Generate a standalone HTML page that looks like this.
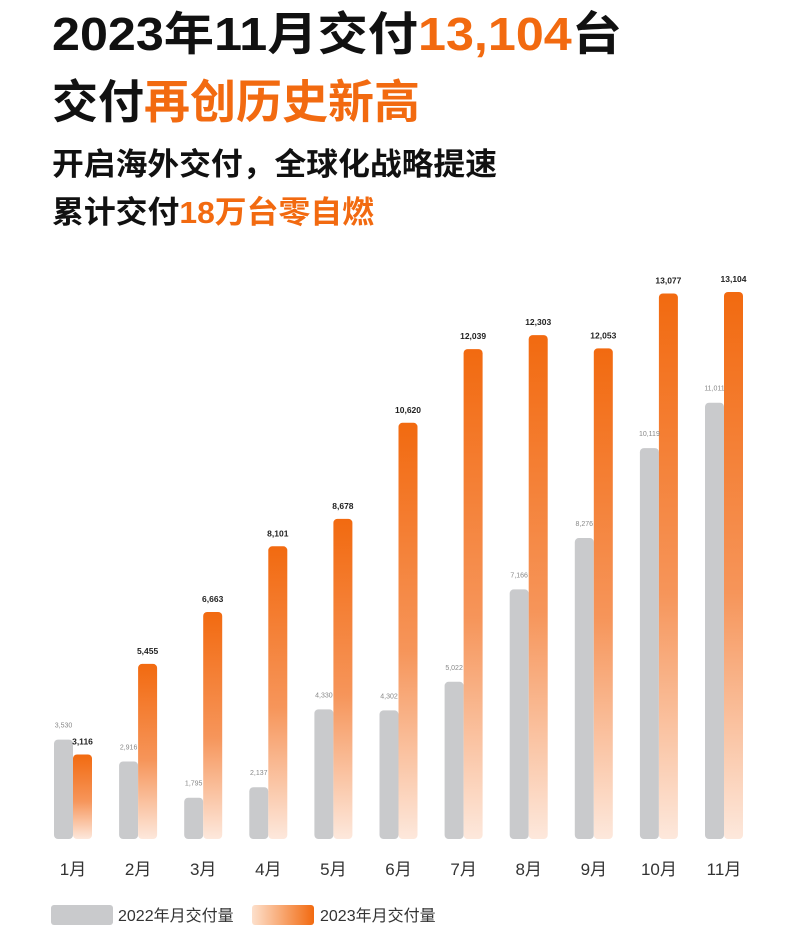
<!DOCTYPE html>
<html><head><meta charset="utf-8">
<style>
html,body{margin:0;padding:0;background:#fff;}
body{width:797px;height:936px;overflow:hidden;font-family:"Liberation Sans","Noto Sans CJK SC",sans-serif;}
.o{fill:#f26a10;}
</style></head>
<body>
<svg id="chart" width="797" height="936" viewBox="0 0 797 936" xmlns="http://www.w3.org/2000/svg">
<defs>
<linearGradient id="og" x1="0" y1="0" x2="0" y2="1">
<stop offset="0" stop-color="#f26a10"/><stop offset="0.55" stop-color="#f6955a"/><stop offset="1" stop-color="#fde8dc"/>
</linearGradient>
<linearGradient id="lg" x1="0" y1="0" x2="1" y2="0">
<stop offset="0" stop-color="#fde0cc"/><stop offset="1" stop-color="#f26a10"/>
</linearGradient>
</defs>
<g font-family="'Liberation Sans','Noto Sans CJK SC',sans-serif" font-weight="bold">
<text x="52" y="50" font-size="46" fill="#111" textLength="570" lengthAdjust="spacingAndGlyphs">2023年11月交付<tspan class="o">13,104</tspan>台</text>
<text x="52" y="118" font-size="46" fill="#111">交付<tspan class="o">再创历史新高</tspan></text>
<text x="52" y="175" font-size="31" fill="#111" textLength="445" lengthAdjust="spacingAndGlyphs">开启海外交付，全球化战略提速</text>
<text x="52" y="223" font-size="31" fill="#111" textLength="322" lengthAdjust="spacingAndGlyphs">累计交付<tspan class="o">18万台零自燃</tspan></text>
</g>
<g id="bars"></g>
<g>
<rect x="51" y="905" width="62" height="20" rx="3" fill="#c9cacc"/>
<text x="118" y="921" font-size="16" fill="#333">2022年月交付量</text>
<rect x="252" y="905" width="62" height="20" rx="3" fill="url(#lg)"/>
<text x="320" y="921" font-size="16" fill="#333">2023年月交付量</text>
</g>
</svg>
<script>
const months = ["1月","2月","3月","4月","5月","6月","7月","8月","9月","10月","11月"];
const values2022 = [3530,2916,1795,2137,4330,4302,5022,7166,8276,10119,11011];
const values2023 = [3116,5455,6663,8101,8678,10620,12039,12303,12053,13077,13104];
const labels2022 = ["3,530","2,916","1,795","2,137","4,330","4,302","5,022","7,166","8,276","10,119","11,011"];
const labels2023 = ["3,116","5,455","6,663","8,101","8,678","10,620","12,039","12,303","12,053","13,077","13,104"];

const NS="http://www.w3.org/2000/svg";
const baseY=839, plotH=547, vMax=13104;
function yScale(v){return baseY - plotH*Math.pow(v/vMax,1.3);}
function xScale(i){return 54 + i*65.1;}
const bw=19;
const g=document.getElementById('bars');
function mk(tag,attrs){const e=document.createElementNS(NS,tag);for(const k in attrs)e.setAttribute(k,attrs[k]);g.appendChild(e);return e;}
months.forEach((m,i)=>{
  const x=xScale(i);
  const y1=yScale(values2022[i]);
  const r1=mk('rect',{x:x,y:y1,width:bw,height:baseY-y1,rx:4,fill:'#c9cacc'});
  
  
  const y2=yScale(values2023[i]);
  const r2=mk('rect',{x:x+bw,y:y2,width:bw,height:baseY-y2,rx:4,fill:'url(#og)'});
  
  
  const t1=mk('text',{x:x+bw/2,y:y1-12,'font-size':7,fill:'#888','text-anchor':'middle'});
  t1.textContent=labels2022[i];
  
  
  const t2=mk('text',{x:x+bw*1.5,y:y2-10,'font-size':8.5,'font-weight':'bold',fill:'#222','text-anchor':'middle'});
  t2.textContent=labels2023[i];
  
  
  const ml=mk('text',{x:x+bw,y:875,'font-size':17,fill:'#333','text-anchor':'middle'});
  ml.textContent=m;
  
  
});
</script>
</body></html>
